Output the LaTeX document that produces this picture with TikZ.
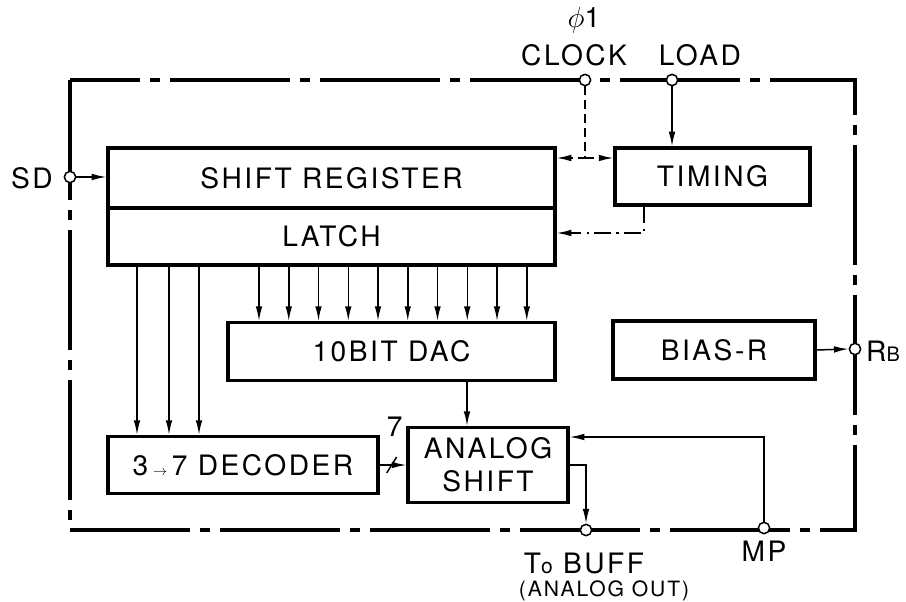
\documentclass[tikz,border=0pt]{standalone}
\usepackage{fontspec}
\setmainfont{TeX Gyre Heros}[LetterSpace=9]
\usetikzlibrary{arrows.meta, calc}
\tikzset{
  BLK/.style args={#1/#2}{
    rectangle, draw=black, line width=0.95mm,
    minimum width=#1, minimum height=#2,
    inner sep=0pt, align=center,
    font=\fontsize{24}{28}\selectfont
  },
  TRM/.style={
    circle, draw=black, fill=white, line width=0.45mm,
    inner sep=0pt, minimum size=3.4mm
  },
  ARR/.style={
    -{Latex[length=4.4mm,width=2mm]}, line width=0.45mm
  },
  DSH/.style={dash pattern=on 2.6mm off 1.6mm},
  DDT/.style={dash pattern=on 5mm off 1.6mm on 0.7mm off 1.6mm},
  BND/.style={
    line width=1.2mm,
    dash pattern=on 36mm off 3mm on 3mm off 3mm
  },
  LBL/.style={font=\fontsize{24}{28}\selectfont, inner sep=0pt},
}

\begin{document}
\begin{tikzpicture}[x=0.3mm,y=-0.3mm]
\useasboundingbox (0,0) rectangle (906,602);

%================ PACKAGE OUTLINE =================
\draw[BND] (70,80) rectangle (855,530);

%================ BLOCKS =================
\node[BLK=134.1mm/18mm]   (sr)   at (331.5,178)   {SHIFT REGISTER};
\node[BLK=134.1mm/17.1mm] (lat)  at (331.5,236.5) {LATCH};
\node[BLK=58.5mm/17.1mm]  (tim)  at (712.5,176.5) {TIMING};
\node[BLK=98.1mm/17.4mm]  (dac)  at (391.5,351.5) {10BIT DAC};
\node[BLK=60.6mm/17.4mm]  (bias) at (714,350)     {BIAS-R};
\node[BLK=81mm/17.1mm]    (dec)  at (243,465)
  {3\,{\fontsize{12}{12}\selectfont$\rightarrow$}\,7 DECODER};
\node[BLK=48mm/22.5mm]    (as)   at (488,465)     {ANALOG\\SHIFT};

%================ TERMINALS =================
\node[TRM] (sd)   at (70,177)  {};
\node[TRM] (clk)  at (585,80)  {};
\node[TRM] (load) at (672,80)  {};
\node[TRM] (rb)   at (855,349) {};
\node[TRM] (buff) at (586,530) {};
\node[TRM] (mp)   at (764,528) {};

\node[LBL] (sdl)   at (32,178)  {SD};
\node[LBL] (phil)  at (584,20)  {$\phi$1};
\node[LBL] (clkl)  at (574,55)  {CLOCK};
\node[LBL] (loadl) at (700,55)  {LOAD};
\node[LBL,anchor=west] (rbl) at (866,351)
  {R{\fontsize{17}{17}\selectfont B}};
\node[LBL] (bufl)  at (584,563) {T{\fontsize{18}{18}\selectfont o} BUFF};
\node[LBL,font=\fontsize{18}{20}\selectfont] (aol) at (604,591) {(ANALOG OUT)};
\node[LBL] (mpl)   at (764,551) {MP};

%================ INPUTS =================
\draw[ARR] (sd.east) -- (sd -| sr.west);
\draw[ARR] (load.south) -- (load |- tim.north);

\coordinate (ckj) at (585,158);
\draw[ARR,DSH] (clk.south) -- (ckj) -- (ckj -| sr.east);
\draw[ARR,DSH] (ckj) -- (ckj -| tim.west);

\coordinate (tmj) at (644,233);
\draw[ARR,DDT] (tim.south -| tmj) -- (tmj) -- (tmj -| lat.east);

%================ LATCH OUTPUTS =================
\foreach \x in {137,169,199}
  \draw[ARR] (lat.south -| {(\x,0)}) -- (dec.north -| {(\x,0)});

\foreach \i [evaluate=\i as \x using 259+29.75*\i] in {0,...,9}
  \draw[ARR] (lat.south -| {(\x,0)}) -- (dac.north -| {(\x,0)});

%================ ANALOG PATH =================
\draw[ARR] (dac.south -| {(467,0)}) -- (as.north -| {(467,0)});

\draw[ARR] (dec.east) -- (as.west) coordinate[pos=0.45] (bus);
\draw[line width=0.45mm] ($(bus)+(-5,8)$) -- ($(bus)+(5,-8)$);
\node[LBL] (busl) at ($(bus)+(3,-38)$) {7};

\draw[ARR] (as.east) -| (buff.north);
\draw[ARR] (mp.north) |- (as.east |- {(0,437)});

\draw[ARR] (bias.east) -- (rb.west);

\end{tikzpicture}
\end{document}
